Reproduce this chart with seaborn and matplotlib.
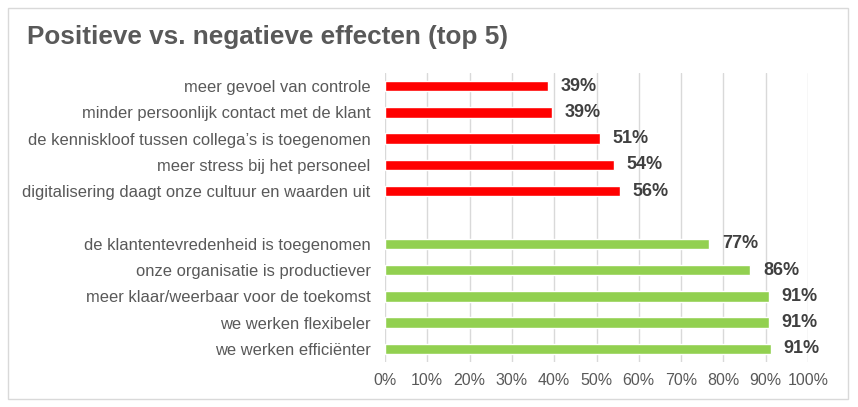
import pandas as pd
import matplotlib

matplotlib.use('Agg')
import matplotlib.pyplot as plt
import seaborn as sns
from matplotlib.patches import Rectangle

# Data
negatief_labels = [
    "meer gevoel van controle",
    "minder persoonlijk contact met de klant",
    "de kenniskloof tussen collega\u2019s is toegenomen",
    "meer stress bij het personeel",
    "digitalisering daagt onze cultuur en waarden uit",
]
negatief_waarden = [38.6, 39.4, 50.8, 54.1, 55.5]

positief_labels = [
    "de klantentevredenheid is toegenomen",
    "onze organisatie is productiever",
    "meer klaar/weerbaar voor de toekomst",
    "we werken flexibeler",
    "we werken effici\u00ebnter",
]
positief_waarden = [76.7, 86.4, 90.8, 90.8, 91.3]

x_ticks = list(range(0, 101, 10))

TEKST_GRIJS = "#595959"
LABEL_GRIJS = "#404040"

sns.set_theme(style="white")
plt.rcParams['font.family'] = ['Liberation Sans', 'DejaVu Sans']

df = pd.DataFrame({
    "label": negatief_labels + positief_labels,
    "waarde": negatief_waarden + positief_waarden,
    "groep": ["neg"] * len(negatief_labels) + ["pos"] * len(positief_labels),
})
# lege regel tussen de twee groepen
volgorde = negatief_labels + [" "] + positief_labels

fig = plt.figure(figsize=(8.58, 4.07), dpi=100)
ax = fig.add_axes([385 / 858, 1 - 362 / 407, (808 - 385) / 858, (362 - 73) / 407])

sns.barplot(data=df, x="waarde", y="label", hue="groep", order=volgorde,
            palette={"neg": "#FF0000", "pos": "#92D050"}, width=0.4,
            saturation=1, dodge=False, legend=False, orient="h", ax=ax)

for cont in ax.containers:
    vals = [b.get_width() for b in cont]
    ax.bar_label(cont, labels=[f"{round(v)}%" for v in vals], padding=9,
                 fontsize=13, fontweight="bold", color=LABEL_GRIJS)

ax.set_xlim(0, 100)
ax.set_ylim(10.5, -0.5)
ax.set_xticks(x_ticks)
ax.set_xticklabels([f"{t}%" for t in x_ticks])
ax.grid(axis="x", color="#D9D9D9", linewidth=1)
ax.set_axisbelow(True)
for s in ax.spines.values():
    s.set_visible(False)
ax.tick_params(axis="y", length=0, pad=10.5, labelsize=11.9, labelcolor=TEKST_GRIJS)
ax.tick_params(axis="x", length=0, pad=8, labelsize=11.5, labelcolor=TEKST_GRIJS)
ax.set_xlabel("")
ax.set_ylabel("")

fig.text(27 / 858, 1 - 37 / 407, "Positieve vs. negatieve effecten (top 5)",
         fontsize=18.8, fontweight="bold", color=TEKST_GRIJS, va="center", ha="left")

fig.patches.append(Rectangle((8 / 858, 8 / 407), 840 / 858, 391 / 407,
                             transform=fig.transFigure, fill=False,
                             edgecolor="#D9D9D9", linewidth=1))

fig.savefig("out.png", dpi=100)
plt.close(fig)
